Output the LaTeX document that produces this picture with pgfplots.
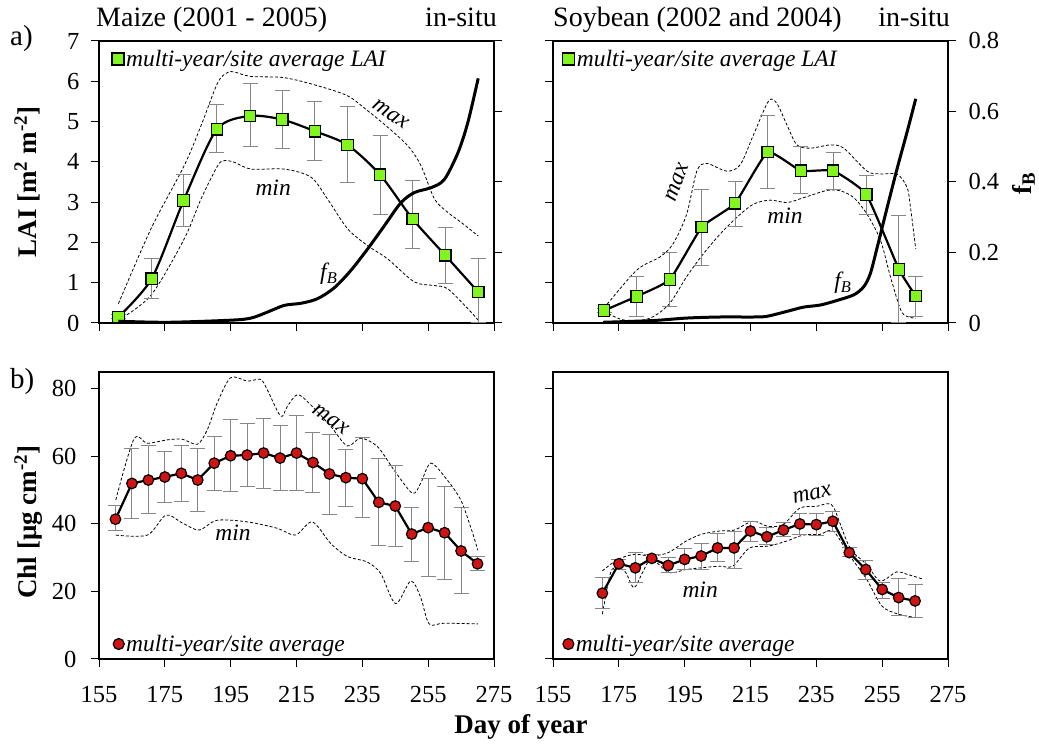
\documentclass[border=0pt]{standalone}
\usepackage{fontspec}
\setmainfont{Liberation Serif}
\usepackage{pgfplots}
\pgfplotsset{compat=1.18}
\usepackage{pgfplotstable}

\definecolor{lgreen}{RGB}{128,245,30}
\definecolor{mred}{RGB}{208,20,20}
\definecolor{ebgray}{RGB}{135,135,135}

\newcommand\tickfont{\fontsize{24.5}{29}\selectfont}
\newcommand\txtfont{\fontsize{28}{33}\selectfont}
\newcommand\annfont{\fontsize{23.5}{28}\selectfont\itshape}
\newcommand\labfont{\fontsize{27}{32}\selectfont\bfseries}

% ---------- Maize LAI ----------
\pgfplotstableread{
x y ep em
160.9 0.15 0.05 0.05
171.0 1.10 0.49 0.50
180.7 3.04 0.64 0.64
190.8 4.81 0.61 0.57
200.9 5.14 0.81 0.76
210.7 5.05 0.71 0.71
220.6 4.76 0.73 0.73
230.5 4.42 0.96 0.93
240.4 3.68 0.97 0.99
250.3 2.58 0.96 0.74
260.2 1.68 0.69 0.71
270.2 0.77 0.82 0.77
}\maizeLAI
\pgfplotstableread{
x y
160.9 0.48
170.8 2.34
180.9 3.91
186.0 4.90
191.1 5.97
194.1 6.22
196.1 6.23
201.2 6.12
211.3 6.09
221.4 5.89
230.5 5.64
236.6 5.27
242.7 4.86
248.8 4.40
252.8 3.91
256.9 3.08
260.9 2.75
265.0 2.50
270.2 2.16
}\maizeLAImax
\pgfplotstableread{
x y
160.9 0.07
170.8 0.69
180.9 2.09
186.0 3.08
191.1 3.91
193.1 4.03
196.1 3.99
201.2 3.82
211.3 3.82
219.4 3.62
224.4 3.08
230.5 2.34
236.6 1.92
242.7 1.59
250.8 1.02
256.9 0.93
260.9 0.85
267.0 0.36
270.2 0.07
}\maizeLAImin
\pgfplotstableread{
x y
160.9 0.005
175.9 0.002
195.1 0.008
201.2 0.014
206.2 0.031
211.3 0.050
216.4 0.056
221.4 0.069
226.5 0.100
231.5 0.149
236.6 0.210
241.7 0.276
246.7 0.341
250.8 0.370
255.9 0.384
259.9 0.407
264.0 0.482
267.0 0.567
270.2 0.694
}\maizeFB

% ---------- Soybean LAI ----------
\pgfplotstableread{
x y ep em
170.5 0.31 0.05 0.05
180.4 0.66 0.49 0.50
190.5 1.08 0.68 0.67
200.2 2.38 0.94 0.96
210.3 2.97 0.55 0.57
220.2 4.24 0.90 0.91
230.3 3.78 0.59 0.56
240.1 3.78 0.46 0.46
250.2 3.19 0.48 0.49
260.1 1.33 1.33 1.33
265.2 0.67 0.49 0.51
}\soyLAI
\pgfplotstableread{
x y
170.5 0.37
180.4 1.31
187.5 1.64
191.5 1.97
195.6 2.70
198.7 3.77
201.7 3.96
207.8 3.77
211.9 3.93
215.9 4.67
220.5 5.51
223.0 5.45
226.1 4.91
229.1 4.42
233.2 4.34
239.3 4.42
243.3 4.34
250.4 3.77
254.5 3.70
259.6 3.69
262.6 3.36
263.6 2.87
265.2 1.84
}\soyLAImax
\pgfplotstableread{
x y
170.5 0.29
175.3 0.10
180.4 0.04
185.5 0.16
190.5 0.49
195.6 1.15
200.7 1.72
205.8 2.21
210.8 2.62
215.9 2.95
221.0 3.05
226.1 2.99
231.1 3.11
238.2 3.29
242.3 3.28
246.4 3.11
250.4 2.70
254.5 2.05
257.5 1.15
260.6 0.33
262.6 0.16
265.2 0.12
}\soyLAImin
\pgfplotstableread{
x y
170.2 0.002
185.5 0.007
195.6 0.014
205.8 0.017
215.9 0.017
220.0 0.019
226.1 0.033
231.1 0.045
236.2 0.051
241.3 0.064
246.4 0.080
249.4 0.103
251.4 0.140
253.5 0.215
256.5 0.327
259.6 0.440
262.6 0.543
265.2 0.636
}\soyFB

% ---------- Maize Chl ----------
\pgfplotstableread{
x y ep em
160 41.4 4.0 3.4
165 52.0 10.2 10.4
170 53.0 10.1 9.9
175 53.9 7.5 7.5
180 55.0 8.2 8.4
185 53.0 9.4 9.3
190 58.0 8.0 8.1
195 60.2 10.7 10.6
200 60.4 9.2 9.4
205 61.0 10.2 10.5
210 59.5 9.7 9.5
215 61.0 11.0 11.0
220 58.2 9.0 8.9
225 54.8 11.7 11.9
230 53.7 8.4 8.6
235 53.4 12.2 11.5
240 46.4 13.1 12.7
245 45.3 11.9 12.1
250 37.0 7.9 8.0
255 38.9 14.6 14.6
260 37.4 13.8 13.8
265 32.0 12.8 12.7
270 28.2 2.3 1.9
}\maizeChl
\pgfplotstableread{
x y
160.1 47.1
165.6 65.1
169.7 63.9
175.8 64.9
180.3 65.1
184.9 63.6
187.9 67.9
190.9 75.8
195.0 83.3
200.1 82.3
204.1 82.8
206.1 79.8
210.2 71.9
212.2 74.8
215.3 78.3
219.3 75.3
225.4 68.9
230.4 63.1
234.5 65.4
239.6 62.9
244.6 56.0
250.2 49.1
252.7 52.0
255.8 58.0
260.8 53.0
264.9 47.1
267.9 39.1
270.1 32.2
}\maizeChlmax
\pgfplotstableread{
x y
160.1 36.7
169.7 36.7
175.3 42.6
180.3 40.3
185.4 38.2
190.9 41.1
200.1 40.6
209.2 38.7
214.7 36.7
219.8 40.6
225.4 34.2
230.4 30.4
236.5 28.7
240.6 25.3
245.1 16.4
249.7 23.1
252.7 18.3
255.3 10.4
259.8 10.6
270.1 10.4
}\maizeChlmin

% ---------- Soybean Chl ----------
\pgfplotstableread{
x y ep em
170 19.5 4.6 4.4
175 28.2 1.3 1.7
180 27.0 4.5 4.4
185 29.8 1.2 0.8
190 27.7 2.3 2.1
195 29.5 3.1 3.0
200 30.5 3.7 4.0
205 32.9 4.3 3.9
210 32.9 5.0 6.2
215 37.9 2.9 3.0
220 36.2 2.6 2.3
225 38.2 2.1 1.8
230 40.0 3.0 3.1
235 39.8 3.3 3.2
240 40.8 2.8 2.9
245 31.5 1.4 1.2
250 26.5 2.8 3.1
255 20.6 2.0 2.6
260 18.2 5.6 5.2
265 17.2 4.9 4.9
}\soyChl
\pgfplotstableread{
x y
170.0 26.1
174.7 29.5
179.8 31.0
184.9 30.5
190.0 31.5
195.4 34.9
200.0 36.9
205.5 37.9
210.1 38.2
215.7 40.8
220.3 39.3
224.9 39.8
230.0 44.7
235.0 45.2
238.6 46.0
240.6 44.2
245.2 32.9
250.3 28.0
254.4 23.1
259.4 25.8
262.5 25.1
267.6 23.6
}\soyChlmax
\pgfplotstableread{
x y
170.0 13.3
172.5 25.6
174.7 27.0
177.1 25.6
179.6 21.1
182.2 25.6
184.9 29.5
190.3 25.6
195.4 26.5
200.0 27.0
205.5 27.5
209.6 27.5
214.7 32.9
220.3 33.4
225.9 34.9
231.0 36.7
236.1 36.9
240.1 37.9
245.2 30.5
250.3 23.6
254.9 15.7
259.9 13.3
265.0 12.3
}\soyChlmin

\pgfplotsset{
  base/.style={
    scale only axis, width=395pt, anchor=south west,
    xmin=155, xmax=275, xtick={155,175,...,275},
    tick align=outside, major tick length=8pt,
    tick style={black, line width=1pt},
    axis line style={black, line width=1.3pt, -},
    ticklabel style={font=\tickfont},
    xticklabel style={yshift=-16pt},
    /pgf/number format/assume math mode=true,
    clip=false,
  },
  dashline/.style={black, line width=0.8pt, dash pattern=on 3pt off 2pt, smooth, tension=0.5, forget plot},
  ebars/.style={draw=none, mark=none, forget plot,
    error bars/.cd, y dir=both, y explicit,
    error bar style={draw=ebgray, line width=1pt, solid},
    error mark options={draw=ebgray, line width=1pt, mark size=7.5pt, rotate=90}},
  fbline/.style={black, line width=3pt, smooth, tension=0.5},
  lgsq/.style={only marks, mark=square*, mark size=6pt, mark options={fill=lgreen, draw=black, line width=1.2pt}},
  lgci/.style={only marks, mark=*, mark size=5.5pt, mark options={fill=mred, draw=black, line width=1.2pt}},
  leg/.style={legend style={draw=none, fill=none, font=\annfont, inner sep=1pt, legend cell align=left}},
}

\begin{document}
\begin{tikzpicture}
\path[use as bounding box] (0,0) rectangle (1039pt,744pt);

% ===== top-left: maize LAI =====
\begin{axis}[base, at={(99pt,421pt)}, height=282pt,
  ymin=0, ymax=7, ytick={0,...,7},
  xtick pos=bottom, ytick pos=left, xticklabels={},
  yticklabel style={xshift=-8pt},
  leg, legend style={at={(axis description cs:0.03,0.979)}, anchor=north west}]
\addlegendimage{lgsq}
\addlegendentry{multi-year/site average LAI}
\addplot[dashline] table[x=x,y=y] {\maizeLAImax};
\addplot[dashline] table[x=x,y=y] {\maizeLAImin};
\addplot[ebars] table[x=x,y=y,y error plus=ep,y error minus=em] {\maizeLAI};
\addplot[black, line width=2.2pt, smooth, tension=0.45, mark=square*, mark size=5.7pt,
  mark options={fill=lgreen, draw=black, line width=1.2pt, solid}, forget plot]
  table[x=x,y=y] {\maizeLAI};
\node[font=\annfont, rotate=-35] at (axis cs:243.7,5.18) {max};
\node[font=\annfont] at (axis cs:207.9,3.36) {min};
\node[font=\annfont] at (axis cs:224.8,1.22) {f\textsubscript{B}};
\end{axis}
\begin{axis}[base, at={(99pt,421pt)}, height=282pt,
  ymin=0, ymax=0.8, ytick={0,0.2,0.4,0.6,0.8}, yticklabels={},
  axis x line=none, axis y line*=right]
\addplot[fbline] table[x=x,y=y] {\maizeFB};
\end{axis}

% ===== top-right: soybean LAI =====
\begin{axis}[base, at={(553pt,421pt)}, height=282pt,
  ymin=0, ymax=7, ytick={0,...,7}, yticklabels={},
  xtick pos=bottom, ytick pos=left, xticklabels={},
  leg, legend style={at={(axis description cs:0.022,0.979)}, anchor=north west}]
\addlegendimage{lgsq}
\addlegendentry{multi-year/site average LAI}
\addplot[dashline] table[x=x,y=y] {\soyLAImax};
\addplot[dashline] table[x=x,y=y] {\soyLAImin};
\addplot[ebars] table[x=x,y=y,y error plus=ep,y error minus=em] {\soyLAI};
\addplot[black, line width=2.2pt, smooth, tension=0.25, mark=square*, mark size=5.7pt,
  mark options={fill=lgreen, draw=black, line width=1.2pt, solid}, forget plot]
  table[x=x,y=y] {\soyLAI};
\node[font=\annfont, rotate=70] at (axis cs:192.7,3.49) {max};
\node[font=\annfont] at (axis cs:225.5,2.67) {min};
\node[font=\annfont] at (axis cs:243.1,1.0) {f\textsubscript{B}};
\end{axis}
\begin{axis}[base, at={(553pt,421pt)}, height=282pt,
  ymin=0, ymax=0.8, ytick={0,0.2,0.4,0.6,0.8},
  yticklabel style={xshift=9pt},
  axis x line=none, axis y line*=right]
\addplot[fbline] table[x=x,y=y] {\soyFB};
\end{axis}

% ===== bottom-left: maize Chl =====
\begin{axis}[base, at={(99pt,85pt)}, height=287pt,
  ymin=0, ymax=85, ytick={0,20,...,80},
  xtick pos=bottom, ytick pos=left,
  yticklabel style={xshift=-11pt},
  leg, legend style={at={(axis description cs:0.033,0.01)}, anchor=south west}]
\addlegendimage{lgci}
\addlegendentry{multi-year/site average}
\addplot[dashline] table[x=x,y=y] {\maizeChlmax};
\addplot[dashline] table[x=x,y=y] {\maizeChlmin};
\addplot[ebars] table[x=x,y=y,y error plus=ep,y error minus=em] {\maizeChl};
\addplot[black, line width=2.2pt, mark=*, mark size=5.3pt,
  mark options={fill=mred, draw=black, line width=1.2pt, solid}, forget plot]
  table[x=x,y=y] {\maizeChl};
\node[font=\annfont, rotate=-35] at (axis cs:225.5,70.9) {max};
\node[font=\annfont] at (axis cs:195.7,37.3) {min};
\end{axis}

% ===== bottom-right: soybean Chl =====
\begin{axis}[base, at={(553pt,85pt)}, height=287pt,
  ymin=0, ymax=85, ytick={0,20,...,80}, yticklabels={},
  xtick pos=bottom, ytick pos=left,
  leg, legend style={at={(axis description cs:0.022,0.01)}, anchor=south west}]
\addlegendimage{lgci}
\addlegendentry{multi-year/site average}
\addplot[dashline] table[x=x,y=y] {\soyChlmax};
\addplot[dashline] table[x=x,y=y] {\soyChlmin};
\addplot[ebars] table[x=x,y=y,y error plus=ep,y error minus=em] {\soyChl};
\addplot[black, line width=2.2pt, mark=*, mark size=5.3pt,
  mark options={fill=mred, draw=black, line width=1.2pt, solid}, forget plot]
  table[x=x,y=y] {\soyChl};
\node[font=\annfont, rotate=12] at (axis cs:233.7,48.8) {max};
\node[font=\annfont] at (axis cs:199.7,20.5) {min};
\end{axis}

% ===== free texts =====
\node[font=\txtfont, anchor=base west, inner sep=0pt] at (96pt,717pt) {Maize (2001 - 2005)};
\node[font=\txtfont, anchor=base east, inner sep=0pt] at (497pt,717pt) {in-situ};
\node[font=\txtfont, anchor=base west, inner sep=0pt] at (553pt,717pt) {Soybean (2002 and 2004)};
\node[font=\txtfont, anchor=base east, inner sep=0pt] at (950pt,717pt) {in-situ};
\node[font=\fontsize{29}{34}\selectfont, anchor=base west, inner sep=0pt] at (10pt,698pt) {a)};
\node[font=\fontsize{29}{34}\selectfont, anchor=base west, inner sep=0pt] at (10pt,355pt) {b)};
\node[font=\labfont, rotate=90, anchor=base, inner sep=0pt] at (36pt,562pt) {LAI [m\textsuperscript{2} m\textsuperscript{-2}]};
\node[font=\labfont, rotate=90, anchor=base, inner sep=0pt] at (36pt,222pt) {Chl [μg cm\textsuperscript{-2}]};
\node[font=\labfont, rotate=90, anchor=base, inner sep=0pt] at (1031pt,561pt) {f\textsubscript{B}};
\node[font=\labfont, anchor=base, inner sep=0pt] at (521pt,10pt) {Day of year};
\end{tikzpicture}
\end{document}
